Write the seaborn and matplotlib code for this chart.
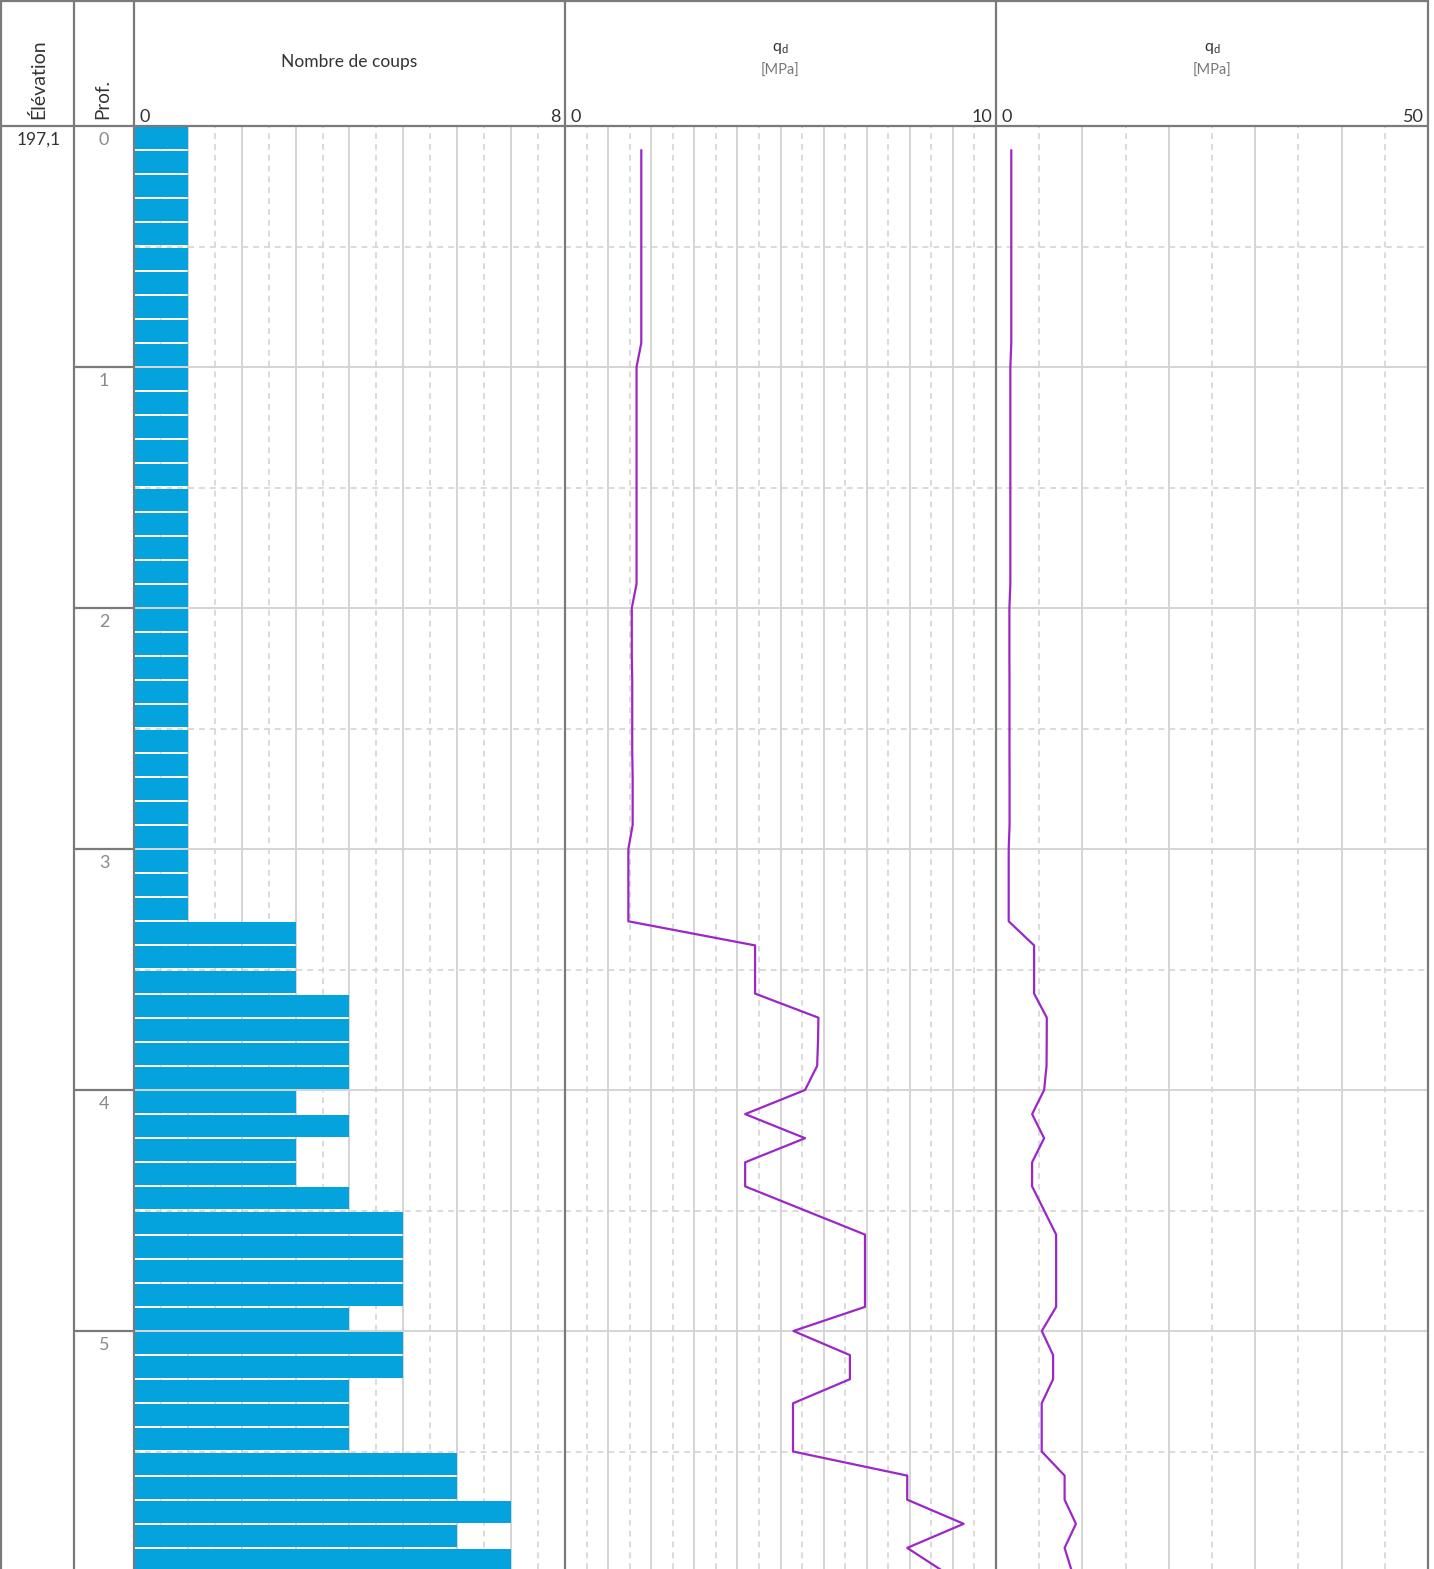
import matplotlib.pyplot as plt
from matplotlib.ticker import MultipleLocator
import numpy as np
import seaborn as sns

sns.set_style("white")
plt.rcParams["font.family"] = ["Lato", "DejaVu Sans"]
plt.rcParams["mathtext.fontset"] = "custom"
plt.rcParams["mathtext.rm"] = "Lato"

# blows per 10 cm, one value per 0.1 m step from the surface
coups = [1, 1, 1, 1, 1, 1, 1, 1, 1, 1,
         1, 1, 1, 1, 1, 1, 1, 1, 1, 1,
         1, 1, 1, 1, 1, 1, 1, 1, 1, 1,
         1, 1, 1, 3, 3, 3, 4, 4, 4, 4,
         3, 4, 3, 3, 4, 5, 5, 5, 5, 4,
         5, 5, 4, 4, 4, 6, 6, 7, 6, 7]
depth_top = np.round(np.arange(len(coups)) * 0.1, 1)

# dynamic resistance qd [MPa], read at the bottom of each 10 cm step
qd = [1.77, 1.77, 1.77, 1.77, 1.77, 1.77, 1.77, 1.77, 1.77, 1.66,
      1.66, 1.66, 1.66, 1.66, 1.66, 1.66, 1.66, 1.66, 1.66, 1.55,
      1.55, 1.55, 1.56, 1.56, 1.56, 1.56, 1.57, 1.57, 1.57, 1.47,
      1.47, 1.47, 1.47, 4.41, 4.41, 4.41, 5.88, 5.87, 5.85, 5.57,
      4.18, 5.57, 4.18, 4.18, 5.57, 6.96, 6.96, 6.96, 6.96, 5.30,
      6.61, 6.61, 5.29, 5.29, 5.29, 7.94, 7.94, 9.25, 7.94, 8.80]
qd_depth = np.round(depth_top + 0.1, 1)

elevation = "197,1"
depth_labels = [0, 1, 2, 3, 4, 5]

BAR_BLUE = "#05a3dd"
LINE_PURPLE = "#9c27c6"
BORDER = "#7a7a7a"
GRID = "#d4d4d4"
TEXT = "#333333"

W, H = 1434, 1569
TOP = 126          # header height, px
PX_PER_M = 241     # vertical scale, px per metre
depth_max = (H - TOP) / PX_PER_M

fig = plt.figure(figsize=(W / 100, H / 100), dpi=100)


def px_axes(x0, x1):
    return fig.add_axes([x0 / W, 0, (x1 - x0) / W, (H - TOP) / H])


ax_prof = px_axes(74, 134)
ax_bar = px_axes(134, 565)
ax_qd = px_axes(565, 996)
ax_qd2 = px_axes(996, 1428)

# panels: axis, x max, major grid step, minor grid step
panels = [(ax_bar, 8, 1, 0.5), (ax_qd, 10, 1, 0.5), (ax_qd2, 50, 10, 5)]

# number of blows
sns.barplot(x=coups, y=depth_top + 0.05, orient="h", native_scale=True,
            width=0.91, color=BAR_BLUE, saturation=1, linewidth=0,
            errorbar=None, ax=ax_bar)

# qd, two scales
for ax in (ax_qd, ax_qd2):
    sns.lineplot(x=qd, y=qd_depth, sort=False, estimator=None,
                 color=LINE_PURPLE, lw=1.6, ax=ax)

for ax, xmax, major, minor in panels:
    ax.set_xlim(0, xmax)
    ax.set_ylim(depth_max, 0)
    ax.xaxis.set_major_locator(MultipleLocator(major))
    ax.xaxis.set_minor_locator(MultipleLocator(minor))
    ax.yaxis.set_major_locator(MultipleLocator(1))
    ax.yaxis.set_minor_locator(MultipleLocator(0.5))
    ax.grid(which="major", color=GRID, lw=1.4)
    ax.grid(which="minor", color=GRID, lw=1.2, ls=(0, (3.5, 3)))
    ax.set_axisbelow(True)
    ax.tick_params(which="both", length=0, labelbottom=False, labelleft=False)
    for s in ax.spines.values():
        s.set_visible(False)
    ax.set_xlabel("")
    ax.set_ylabel("")
    # scale end values in the header
    ax.annotate("0", xy=(0, 1), xycoords="axes fraction", xytext=(4, 3),
                textcoords="offset points", ha="left", va="baseline",
                fontsize=13, color=TEXT, annotation_clip=False)
    ax.annotate(f"{xmax:g}", xy=(1, 1), xycoords="axes fraction", xytext=(-3, 3),
                textcoords="offset points", ha="right", va="baseline",
                fontsize=13, color=TEXT, annotation_clip=False)

# depth column
ax_prof.set_ylim(depth_max, 0)
ax_prof.set_xlim(0, 1)
ax_prof.axis("off")
ax_prof.hlines(depth_labels[1:], 0, 1, color=BORDER, lw=1.6)
for d in depth_labels:
    ax_prof.annotate(str(d), xy=(0.5, d), xytext=(0, -13.5), textcoords="offset points",
                     ha="center", va="baseline", fontsize=13, color="#8a8a8a")

# frame and header, drawn in pixel coordinates on top
ov = fig.add_axes([0, 0, 1, 1])
ov.set_xlim(0, W)
ov.set_ylim(H, 0)
ov.axis("off")
ov.patch.set_alpha(0)
for x in [1, 74, 134, 565, 996, 1428]:
    ov.plot([x, x], [0, H], color=BORDER, lw=1.6, solid_capstyle="butt")
for y in [1, TOP]:
    ov.plot([0, 1428], [y, y], color=BORDER, lw=1.6, solid_capstyle="butt")

ov.text(38, 119, "Élévation", rotation=90, ha="center", va="bottom", fontsize=14, color=TEXT)
ov.text(103, 119, "Prof.", rotation=90, ha="center", va="bottom", fontsize=13.5, color=TEXT)
ov.text(349.5, 62, "Nombre de coups", ha="center", va="center", fontsize=12.5, color=TEXT)
for cx in [780.5, 1212]:
    ov.text(cx, 48, r"q$_{\mathrm{d}}$", ha="center", va="center", fontsize=11.5, color=TEXT)
    ov.text(cx, 71, "[MPa]", ha="center", va="center", fontsize=10.5, color="#777777")
ov.text(39, 145, elevation, ha="center", va="baseline", fontsize=12.5, color=TEXT)

fig.savefig("out.png", dpi=100)
